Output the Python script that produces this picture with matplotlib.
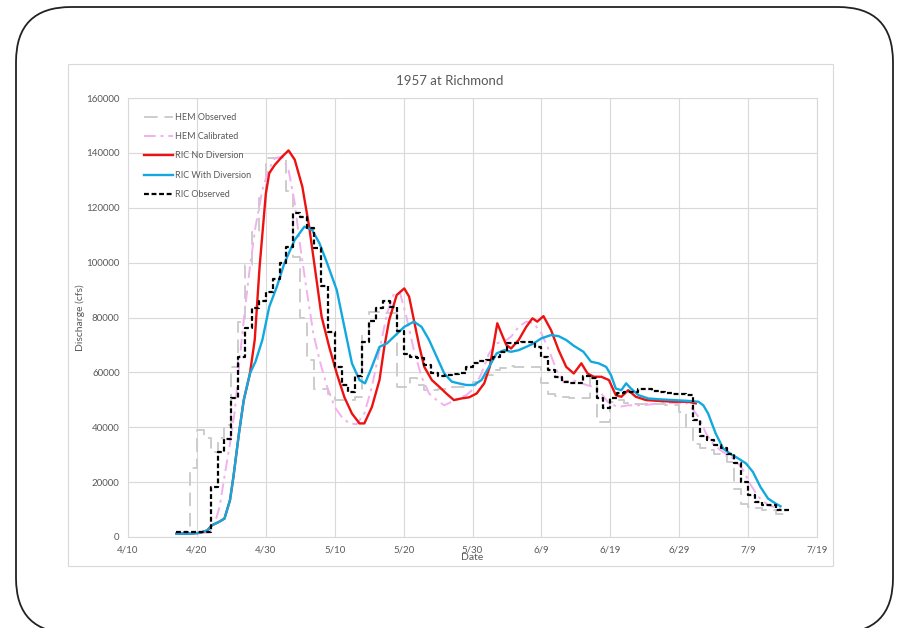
import matplotlib
matplotlib.use("Agg")
import matplotlib.pyplot as plt
from matplotlib.patches import FancyBboxPatch, Rectangle
import numpy as np

plt.rcParams["font.family"] = ["Lato", "DejaVu Sans"]

# x = days after 4/10, values in thousands of cfs
tick_days = [0, 10, 20, 30, 40, 50, 60, 70, 80, 90, 100]
tick_labels = ["4/10", "4/20", "4/30", "5/10", "5/20", "5/30", "6/9", "6/19", "6/29", "7/9", "7/19"]

# daily step series, first day = 7 (4/17)
obs_days = list(range(7, 96))
ric_obs = [1.8, 1.8, 1.8, 1.8, 1.8, 18.3, 31, 35.7, 50.8, 65.5, 76, 83.6, 86.1, 89.4, 93.9,
           99.8, 105.6, 118, 116.5, 112.5, 105.2, 91.6, 74.8, 62, 55.4, 53, 58.7, 71.2, 78.8,
           83.4, 86.1, 84, 75, 66.7, 65.7, 65.1, 62.7, 59.9, 58.7, 59, 59.4, 59.9, 61.9, 63.3,
           64.1, 64.5, 65.5, 67.3, 70.6, 70.8, 71.2, 71.2, 69.4, 65.5, 60.9, 58.2, 56.6, 56, 56,
           58.7, 57.8, 50.5, 46.9, 50.5, 52.4, 53, 53, 53.9, 53.8, 53.2, 53, 52.6, 52.3, 52,
           51.8, 42.6, 36.8, 35.4, 33.5, 32.3, 30.3, 26.9, 20.2, 15.3, 12.9, 11.7, 11.5, 9.8, 9.8]
hem_obs = [1.5, 1.5, 25, 39, 36, 31, 36, 40.7, 62, 78.5, 99, 111, 124, 138, 138, 138, 126, 102,
           80, 64.5, 54, 54, 52, 50, 50, 50, 51, 73.6, 82, 82, 81.5, 81.5, 54.5, 54.5, 57.8, 55.4,
           53.5, 53.5, 54, 54, 54.5, 54.7, 55.5, 56.6, 58, 59, 60.8, 61.5, 62.3, 62, 62, 62, 62,
           56.2, 52.3, 51.5, 51, 50.5, 50.5, 50.5, 57.8, 42, 42, 49.3, 49.9, 49, 48.5, 48.5, 48.5,
           48.5, 48.5, 48, 48, 45.5, 40, 34, 32.5, 31.6, 30.4, 29.5, 27.4, 17.6, 12.2, 11, 10.5,
           10, 9.7, 8.5, 8.5]

# smooth series
cal_days = [7, 9, 11, 11.9, 12.7, 13.3, 14, 14.8, 15.5, 16.2, 16.9, 17.7, 18.5, 19.5, 20.4, 21.3,
            22.4, 23.3, 24.2, 25, 26, 26.9, 27.8, 28.9, 30, 31, 32.1, 33.2, 34.3, 35.4, 36.5, 37.6,
            38.6, 39.5, 40.4, 41.5, 42.6, 43.7, 44.8, 45.9, 47, 48, 49.1, 50.2, 51.3, 52.4, 53.5,
            54.6, 55.6, 56.7, 57.8, 58.9, 60, 61.1, 62.2, 63.2, 64.3, 65.4, 66.5, 67.6, 68.7, 69.8,
            71.2, 72.6, 74.8, 77, 79.2, 81.3, 82.8, 83.9, 84.9, 86, 87.1, 88.2, 89.3, 90.4, 91.5,
            92.9, 94.7]
hem_cal = [1.5, 1.5, 1.5, 1.8, 6, 11, 22, 34, 46, 64.5, 81.5, 98.5, 113, 126.5, 133.8, 138,
           138.7, 133.8, 121.7, 105.8, 88.8, 74.2, 64.5, 54.7, 47.4, 43.8, 41.4, 41.1, 45, 54.7,
           68.1, 81.5, 88.8, 88.8, 80.3, 68.1, 58.4, 52.3, 49.9, 48, 49.3, 50.5, 51.7, 54.1, 59.6,
           66.9, 70.6, 71.2, 73, 76.6, 78.5, 77.9, 74.2, 68.1, 60.8, 56.6, 57.2, 56.6, 55.4, 54.7,
           52.3, 48.7, 47.4, 48, 48, 48.7, 48.9, 48.7, 43.8, 37.7, 34, 31.6, 29.8, 28, 24.3, 18.9,
           14.6, 11.6, 10.3]

div_days = [7, 9, 10.4, 11.5, 12.2, 13.2, 14, 14.8, 15.3, 16.1, 16.8, 17.7, 18.5, 19.5, 20.5,
            21.6, 22.7, 24.2, 25.6, 26.7, 27.8, 28.9, 30.3, 31.4, 32.5, 33.6, 34.4, 35.4, 36.5,
            37.6, 38.6, 40.1, 41.5, 42.6, 43.7, 44.8, 45.9, 47, 48, 49.1, 50.2, 51.3, 52.4, 53.5,
            54.6, 55.6, 56.7, 57.8, 58.9, 60, 61.4, 62.5, 63.6, 64.7, 66.1, 67.2, 68.3, 69.4, 70.1,
            70.8, 71.6, 72.3, 73, 74.1, 75.5, 77, 79.2, 81.3, 82.8, 83.5, 84.2, 85.3, 86.4, 87.5,
            88.6, 89.7, 90.7, 91.8, 92.9, 94, 94.7]
ric_div = [1.2, 1.2, 1.5, 2.4, 4.3, 5.5, 6.7, 13.4, 21.9, 37.7, 49.9, 59.6, 63.9, 71.8, 83.9,
           91.2, 99.8, 108.3, 113.1, 112, 107, 99.8, 90, 76.6, 63.3, 57.2, 56, 62, 69.3, 70.6, 73,
           76.6, 78.5, 76.6, 71.8, 65.7, 59.6, 56.6, 56, 55.4, 55.4, 57.2, 62, 66.9, 68.1, 67.5,
           68.1, 69.3, 70.6, 72.4, 73.6, 73.2, 71.8, 69.7, 67.5, 63.9, 63.3, 62, 59, 54.1, 53.5,
           56, 54.1, 51.7, 50.5, 50.2, 49.9, 49.6, 49.3, 48, 45, 37.7, 32.2, 30.2, 28.6, 26.8,
           23.7, 18.2, 14, 12.2, 11.2]

nodiv_days = [7, 9, 10.4, 11.5, 12.2, 13.2, 14, 14.8, 15.3, 16.1, 16.8, 17.7, 18.4, 19.1, 20,
              20.5, 21.3, 22.4, 23.3, 24.2, 25.3, 26.3, 27.1, 28.1, 29.2, 30.3, 31.4, 32.5, 33.6,
              34.3, 35.4, 36.5, 37.2, 37.9, 39, 40.1, 40.8, 41.5, 42.3, 43, 44.1, 45.2, 46.2, 47.3,
              48.4, 49.5, 50.6, 51.7, 52.5, 53.1, 53.6, 54.2, 54.9, 55.6, 56.7, 57.8, 58.7, 59.4,
              60.3, 61.4, 62.5, 63.6, 64.7, 65.8, 66.7, 67.6, 68.7, 69.8, 70.8, 71.6, 72.6, 73.7,
              75.2, 77, 79.2, 81.3, 82.4]
ric_nodiv = [1.2, 1.2, 1.5, 2.4, 4.3, 5.5, 6.7, 13.4, 21.9, 37.7, 49.9, 59.6, 72, 98.5, 125,
             132.6, 135.6, 138.7, 140.9, 137.5, 127.7, 113, 98.5, 80.3, 69.3, 59.6, 51, 45, 41.4,
             41.4, 47.4, 57.2, 69.3, 79, 88.2, 90.6, 87.6, 79, 69.3, 62, 57.2, 54.7, 52.3, 49.9,
             50.5, 50.9, 52.3, 56, 62, 70.6, 77.9, 74.2, 70, 68.7, 71.8, 76.6, 79.7, 78.5, 80.5,
             75.4, 68.1, 62, 59.6, 63.3, 59.6, 58.4, 58.4, 57.2, 51.7, 51.1, 53.5, 51.1, 49.9,
             49.6, 49.3, 49.3, 48.7]

k = 1000.0
fig = plt.figure(figsize=(9.02, 6.28), dpi=100)

# slide frame and chart area border
fig.patches.append(FancyBboxPatch((0.16, -0.05), 8.77, 6.26,
                                  boxstyle="round,pad=0,rounding_size=0.55",
                                  transform=fig.dpi_scale_trans, fill=False,
                                  edgecolor="#222222", linewidth=1.3))
fig.patches.append(Rectangle((68 / 902, 1 - 566 / 628), 765 / 902, 502 / 628,
                             transform=fig.transFigure, fill=False,
                             edgecolor="#d9d9d9", linewidth=0.8))

ax = fig.add_axes([128 / 902, 1 - 537 / 628, 689 / 902, 439 / 628])

ax.step(obs_days + [96], np.array(hem_obs + [hem_obs[-1]]) * k, where="post",
        color="#cccccc", lw=1.4, dashes=(7, 3.5), label="HEM Observed")
ax.plot(cal_days, np.array(hem_cal) * k, color="#f2b0ee", lw=1.4,
        dashes=(6, 2.5, 1.5, 2.5), label="HEM Calibrated")
ax.plot(nodiv_days, np.array(ric_nodiv) * k, color="#ee1111", lw=1.7, label="RIC No Diversion")
ax.plot(div_days, np.array(ric_div) * k, color="#12a8e0", lw=1.7, label="RIC With Diversion")
ax.step(obs_days + [96], np.array(ric_obs + [ric_obs[-1]]) * k, where="post",
        color="black", lw=1.6, dashes=(2.2, 1.2), label="RIC Observed")

ax.set_xlim(0, 100)
ax.set_ylim(0, 160000)
ax.set_xticks(tick_days)
ax.set_xticklabels(tick_labels)
ax.set_yticks(range(0, 160001, 20000))
ax.grid(True, color="#d9d9d9", lw=0.8)
ax.set_axisbelow(True)
for s in ax.spines.values():
    s.set_color("#d9d9d9")
    s.set_linewidth(0.8)
ax.tick_params(length=0, labelsize=7, colors="#595959", pad=6)

ax.set_xlabel("Date", fontsize=7.5, color="#595959", labelpad=-1)
ax.set_ylabel("Discharge (cfs)", fontsize=7.5, color="#595959", labelpad=1)
fig.text(450 / 902, 1 - 81 / 628, "1957 at Richmond", ha="center", va="center",
         fontsize=9.5, color="#595959")

leg = ax.legend(loc="upper left", bbox_to_anchor=(0.012, 0.985), frameon=False,
                fontsize=6.5, handlelength=3.2, handletextpad=0.2, labelspacing=1.15)
for t in leg.get_texts():
    t.set_color("#595959")

fig.savefig("out.png", dpi=100)
